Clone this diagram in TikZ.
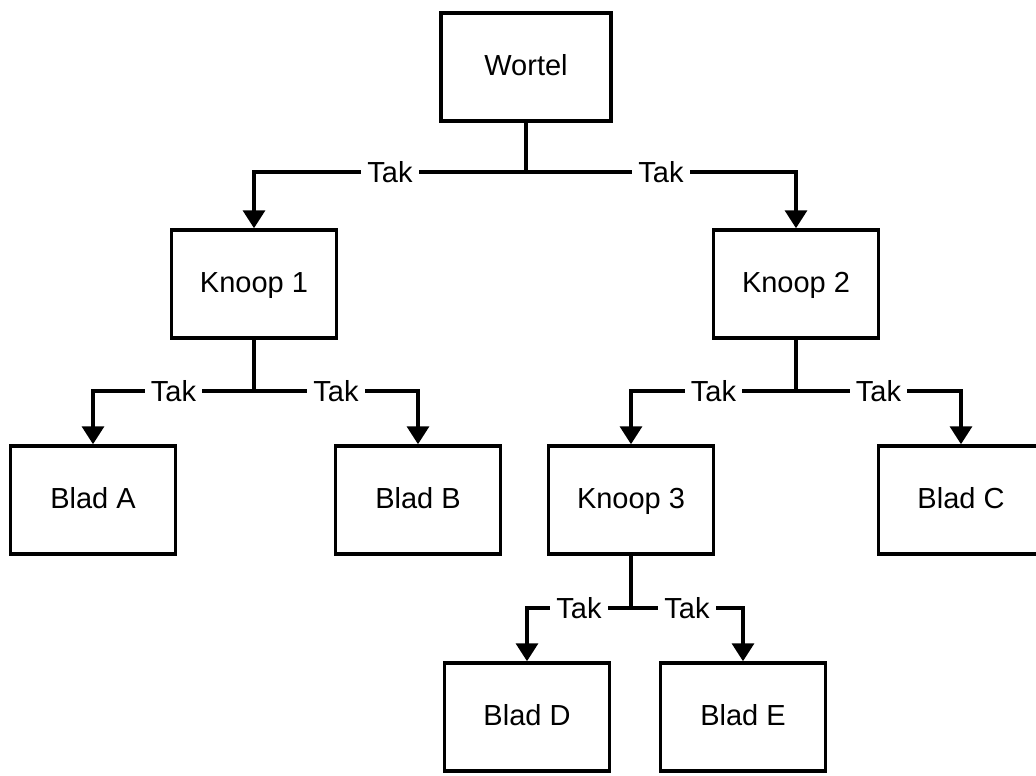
\documentclass[tikz,border=0pt]{standalone}
\usepackage{fontspec}
\setmainfont{Liberation Sans}
\usetikzlibrary{arrows.meta}
\tikzset{
  box/.style={shape=rectangle,draw=black,line width=2pt,minimum width=3.3cm,minimum height=2.16cm,text height=0.92em,text depth=0pt,font=\fontsize{16.5}{19}\selectfont},
  tak/.style={fill=white,inner xsep=3.5pt,inner ysep=1.5pt,font=\fontsize{16.5}{19}\selectfont},
  link/.style={line width=2pt,-{Triangle[width=0.44cm,length=0.36cm]}}
}
\begin{document}
\begin{tikzpicture}[x=0.02cm,y=-0.02cm]
\useasboundingbox (0,0) rectangle (1036,776);
\node[box,minimum width=3.4cm] (wortel) at (526,67) {Wortel};
\node[box] (knoop1) at (254,284) {Knoop 1};
\node[box] (knoop2) at (796,284) {Knoop 2};
\node[box] (bladA) at (93,500) {Blad A};
\node[box] (bladB) at (418,500) {Blad B};
\node[box] (knoop3) at (631,500) {Knoop 3};
\node[box] (bladC) at (961,500) {Blad C};
\node[box] (bladD) at (527,717) {Blad D};
\node[box] (bladE) at (743,717) {Blad E};
\coordinate (j0) at (526,172);
\coordinate (j1) at (254,391);
\coordinate (j2) at (796,391);
\coordinate (j3) at (631,608);
\draw[line width=2pt] (wortel) -- (j0);
\draw[link] (j0) -| node[tak,pos=0.25] {Tak} (knoop1);
\draw[link] (j0) -| node[tak,pos=0.25] {Tak} (knoop2);
\draw[line width=2pt] (knoop1) -- (j1);
\draw[link] (j1) -| node[tak,pos=0.25] {Tak} (bladA);
\draw[link] (j1) -| node[tak,pos=0.25] {Tak} (bladB);
\draw[line width=2pt] (knoop2) -- (j2);
\draw[link] (j2) -| node[tak,pos=0.25] {Tak} (knoop3);
\draw[link] (j2) -| node[tak,pos=0.25] {Tak} (bladC);
\draw[line width=2pt] (knoop3) -- (j3);
\draw[link] (j3) -| node[tak,pos=0.25] {Tak} (bladD);
\draw[link] (j3) -| node[tak,pos=0.25] {Tak} (bladE);
\end{tikzpicture}
\end{document}
